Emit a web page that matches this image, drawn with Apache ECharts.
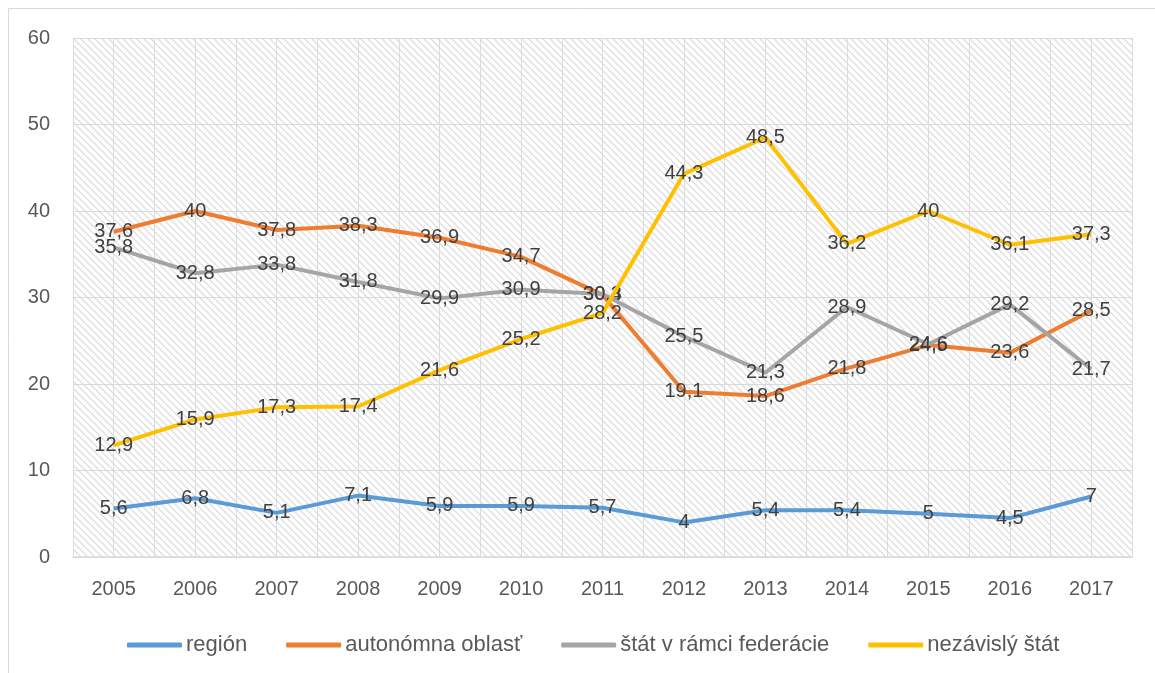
<!DOCTYPE html>
<html><head><meta charset="utf-8">
<script src="https://cdn.jsdelivr.net/npm/echarts@6/dist/echarts.min.js"></script>
<style>html,body{margin:0;padding:0;background:#fff}#c{width:1155px;height:673px}</style>
</head><body><div id="c"></div>
<script>
const years = ['2005','2006','2007','2008','2009','2010','2011','2012','2013','2014','2015','2016','2017'];
const seriesNames = ['región','autonómna oblasť','štát v rámci federácie','nezávislý štát'];
const region = [5.6, 6.8, 5.1, 7.1, 5.9, 5.9, 5.7, 4, 5.4, 5.4, 5, 4.5, 7];
const autonomna = [37.6, 40, 37.8, 38.3, 36.9, 34.7, 30.3, 19.1, 18.6, 21.8, 24.5, 23.6, 28.5];
const federacia = [35.8, 32.8, 33.8, 31.8, 29.9, 30.9, 30.4, 25.5, 21.3, 28.9, 24.6, 29.2, 21.7];
const nezavisly = [12.9, 15.9, 17.3, 17.4, 21.6, 25.2, 28.2, 44.3, 48.5, 36.2, 40, 36.1, 37.3];
const colors = ['#5B9BD5','#ED7D31','#A5A5A5','#FFC000'];
const values = [region, autonomna, federacia, nezavisly];

// hatch pattern
const pc = document.createElement('canvas');
pc.width = 7; pc.height = 7;
const g = pc.getContext('2d');
g.fillStyle = '#ffffff'; g.fillRect(0,0,7,7);
g.strokeStyle = '#dedede'; g.lineWidth = 1.3;
g.beginPath();
g.moveTo(-1,-1); g.lineTo(8,8);
g.moveTo(-8,-1); g.lineTo(1,8);
g.moveTo(6,-1); g.lineTo(15,8);
g.stroke();

const font = 'Liberation Sans, Arial, sans-serif';
const chart = echarts.init(document.getElementById('c'));
chart.setOption({
  animation: false,
  backgroundColor: '#fff',
  graphic: [{type:'rect', shape:{x:8.5,y:8.5,width:1160,height:700}, style:{fill:'none', stroke:'#d9d9d9', lineWidth:1}, z:-10}],
  grid: {left:73, right:23, top:38, bottom:116, show:true, backgroundColor:{image:pc, repeat:'repeat'}, borderWidth:0},
  legend: {
    data: seriesNames, left:122, top:629, icon:'roundRect', itemWidth:55, itemHeight:5, itemGap:39,
    textStyle:{color:'#595959', fontSize:22, fontFamily:font, padding:[0,0,0,-1]}
  },
  xAxis: [{
    type:'category', data: years, boundaryGap:true,
    axisLine:{lineStyle:{color:'#d9d9d9', width:1.5}}, axisTick:{show:false},
    axisLabel:{color:'#595959', fontSize:20, fontFamily:font, margin:22},
    splitLine:{show:false}
  },{
    type:'value', min:0, max:26, interval:1, position:'bottom',
    axisLine:{show:false}, axisTick:{show:false}, axisLabel:{show:false},
    splitLine:{show:true, lineStyle:{color:'#dcdcdc', width:1}}
  }],
  yAxis: {
    type:'value', min:0, max:60, interval:10,
    axisLine:{show:false}, axisTick:{show:false},
    axisLabel:{color:'#595959', fontSize:20, fontFamily:font, margin:23},
    splitLine:{lineStyle:{color:'#d9d9d9', width:1.2}}
  },
  series: seriesNames.map((n,i)=>({
    name:n, type:'line', data: values[i], xAxisIndex:0, yAxisIndex:0,
    symbol:'circle', symbolSize:0.01, showSymbol:true, smooth:false,
    lineStyle:{color:colors[i], width:4}, itemStyle:{color:colors[i]},
    label:{show:true, position:'inside', color:'#404040', fontSize:20, fontFamily:font,
      formatter: p => String(p.value).replace('.', ',')},
    labelLayout:{hideOverlap:false},
    z: 2+i
  }))
});
</script></body></html>
